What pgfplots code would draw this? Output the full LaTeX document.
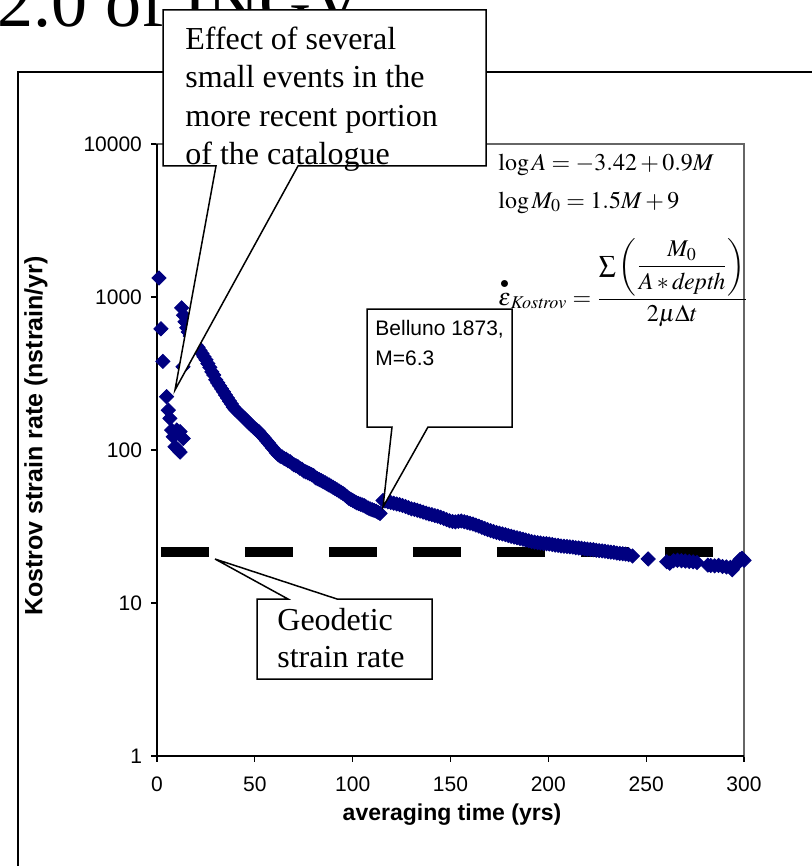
\documentclass[border=0pt]{standalone}
\usepackage{amsmath}
\usepackage{mathptmx}
\usepackage[no-math]{fontspec}
\setmainfont{Liberation Sans}
\newfontfamily\tnr{Liberation Serif}
\usepackage{pgfplots}
\pgfplotsset{compat=1.18}
\definecolor{navy}{RGB}{0,0,128}

\pgfplotstableread{
x y
1 1330
2 620
3 380
4.9 223
5.8 182
6.6 161
7.5 135
8.3 122
9.2 105
10.1 135
10.9 100
11.8 132
11.8 97
13.4 119
12.6 850
13.5 760
14.3 690
15.2 630
16 590
13.3 350
17 556
18 525
19 501
20 484
21 468
22 447
23 427
24 407
25 389
26 367
27 347
28 324
29 309
30 288
31 275
32 263
33 251
34 240
35 229
36 219
37 209
38 200
39 191
40 184
41 179
42 174
43 169
44 164
45 160
46 155
47 150
48 146
49 142
50 138
51 135
52 132
53 127
54 123
55 119
56 115
57 111
58 107
59 103
60 100
61 96
62 93
63 91
64 90
65 88
66 87
67 85
68 84
69 82
70 80
71 79
72 78
73 76
74 75
75 73
76 72
77 71
78 70
79 69
80 68
81 66
82 65
83 64
84 63
85 62
86 61
87 60
88 59
89 58
90 57
91 56
92 55
93 54
94 53
95 52
96 51
97 49.6
98 48.4
99 47.6
100 46.8
101 46.0
102 45.2
103 44.7
104 44.2
105 43.7
106 43.2
107 42.4
108 41.7
109 41.2
110 40.7
111 40.3
112 39.8
113 39.1
114 38.5
115.5 46.8
116.5 46.4
118 45.8
119.5 45.4
121 44.9
122.5 44.4
124 43.9
125.5 43.4
127 42.7
128.5 42.0
130 41.3
131.5 40.9
133 40.4
134.5 39.9
136 39.3
137.5 38.7
139 38.2
140.5 37.8
142 37.3
143.5 36.9
145 36.3
146.5 35.7
148 35.1
149.5 34.5
151 34.1
152.5 33.9
154 34.2
155.5 34.4
157 34.0
158.5 33.6
160 33.2
161.5 32.8
163 32.3
164.5 31.8
166 31.2
167.5 30.7
169 30.2
170.5 29.7
172 29.3
173.5 28.9
175 28.6
176.5 28.3
178 28.0
179.5 27.6
181 27.3
182.5 27.0
184 26.7
185.5 26.4
187 26.1
188.5 25.8
190 25.5
191.5 25.2
193 25.0
194.5 24.8
196 24.7
197.5 24.5
199 24.4
200.5 24.3
202 24.1
203.5 23.9
205 23.8
206.5 23.6
208 23.5
209.5 23.4
211 23.3
212.5 23.2
214 23.0
215.5 22.9
217 22.8
218.5 22.6
220 22.5
221.5 22.4
223 22.3
224.5 22.1
226 22.0
227.5 21.9
229 21.8
230.5 21.6
232 21.5
233.5 21.4
235 21.2
236.5 21.1
238 21.0
239.5 20.9
241 20.7
243 20.3
251 19.4
260.5 18.6
262 18.2
264 18.9
266 19.0
268 18.9
270 18.8
272 18.7
274 18.6
276 18.4
281.5 17.7
283 17.6
285 17.5
287 17.6
289 17.3
291 17.2
293 17.1
294 16.5
296 17.8
297 18.6
298 19.3
299 19.6
300 19.0
}\kostrov

\begin{document}
\begin{tikzpicture}
\begin{scope}[x=0.5pt,y=-0.5pt]
\useasboundingbox (0,0) rectangle (812,866);
% chart area frame, runs off the page on the right and bottom
\draw[line width=0.6pt] (18,900) -- (18,72) -- (830,72);
\node[anchor=base west, inner sep=0, font=\tnr\fontsize{36}{40}\selectfont] at (-3,27) {2.0 of INGV};
\end{scope}

\begin{axis}[
	at={(78.5pt,-378pt)}, anchor=south west,
	scale only axis,
	width=293.5pt, height=306pt,
	xmin=0, xmax=300,
	ymode=log, ymin=1, ymax=10000,
	xtick={0,50,...,300},
	ytick={1,10,100,1000,10000},
	yticklabels={1,10,100,1000,10000},
	yminorticks=false,
	tick align=outside,
	xtick pos=left, ytick pos=left,
	major tick length=3pt,
	axis line style={draw=black!60, line width=0.6pt},
	tick style={black, line width=0.6pt},
	ticklabel style={font=\fontsize{10.5}{12}\selectfont},
	xticklabel style={yshift=-4pt},
	yticklabel style={xshift=-1pt},
	/pgf/number format/assume math mode=true,
	clip=false
]
\draw[black, line width=0.7pt] (rel axis cs:0,1) -- (rel axis cs:0,0) -- (rel axis cs:1,0);
\addplot[black, line width=5pt, dash pattern=on 24pt off 18pt] coordinates {(2,21.5) (284,21.5)};
\addplot[only marks, mark=square*, mark size=2.5pt,
	mark options={rotate=45, draw=navy, fill=navy}] table[x=x, y=y] {\kostrov};
\end{axis}

\begin{scope}[x=0.5pt,y=-0.5pt]
% axis titles
\node[font=\bfseries\fontsize{11.5}{14}\selectfont] at (452,815) {averaging time (yrs)};
\node[rotate=90, font=\bfseries\fontsize{12.5}{14}\selectfont] at (36,436) {Kostrov strain rate (nstrain/yr)};

% equations
\begin{scope}[every node/.style={anchor=base west, inner sep=0, font=\fontsize{12}{14}\selectfont}]
\node at (498,170) {$\log A = -3.42 + 0.9M$};
\node at (498,208) {$\log M_0 = 1.5M + 9$};
\node at (498,305) {$\overset{\bullet}{\varepsilon}_{\mathit{Kostrov}} = \dfrac{{\textstyle\sum}\left(\dfrac{M_0}{A * \mathit{depth}}\right)}{2\mu\Delta t}$};
\end{scope}

% callouts
\draw[fill=white, line width=0.75pt] (163,10) -- (486,10) -- (486,166) -- (298,166) -- (175,390) -- (216,166) -- (163,166) -- cycle;
\begin{scope}[every node/.style={anchor=base west, inner sep=0, font=\tnr\fontsize{16}{19}\selectfont}]
\node at (185,50) {Effect of several};
\node at (185,88) {small events in the};
\node at (185,127) {more recent portion};
\node at (185,165) {of the catalogue};
\end{scope}

\draw[fill=white, line width=0.75pt] (367,309) -- (512,309) -- (512,427) -- (428,427) -- (383,507) -- (392,427) -- (367,427) -- cycle;
\begin{scope}[every node/.style={anchor=base west, inner sep=0, font=\fontsize{10.5}{12}\selectfont}]
\node at (375,335) {Belluno 1873,};
\node at (375,365) {M=6.3};
\end{scope}

\draw[fill=white, line width=0.75pt] (257,599) -- (288,599) -- (215,559) -- (337,599) -- (432,599) -- (432,679) -- (257,679) -- cycle;
\begin{scope}[every node/.style={anchor=base west, inner sep=0, font=\tnr\fontsize{16}{19}\selectfont}]
\node at (277,630) {Geodetic};
\node at (277,667) {strain rate};
\end{scope}
\end{scope}
\end{tikzpicture}
\end{document}
